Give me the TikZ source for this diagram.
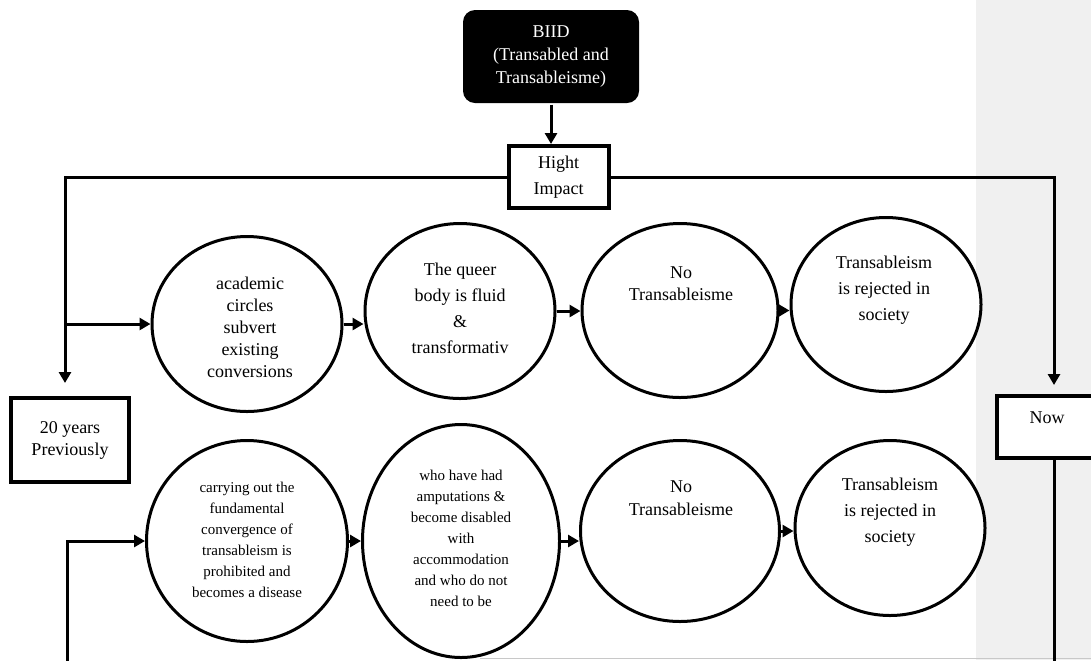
\documentclass[tikz,border=0pt]{standalone}
\usepackage{fontspec}
\setmainfont{Liberation Serif}
\usetikzlibrary{arrows.meta}
\usetikzlibrary{shapes.geometric}
\definecolor{panelgray}{RGB}{240,240,240}
\definecolor{edgegray}{RGB}{200,200,200}

\begin{document}
\begin{tikzpicture}[x=0.5pt,y=-0.5pt,>={Triangle[length=5.5pt,width=6pt]},line width=1.5pt,
    ring/.style={ellipse,draw,fill=white,inner sep=0pt,line width=1.5pt},
    box node/.style={rectangle,draw,fill=white,line width=2pt,align=center,inner sep=0pt,font=\fontsize{9}{11}\selectfont},
    ring text/.style={align=center,font=\fontsize{9}{13}\selectfont},
    small text/.style={align=center,font=\fontsize{7.5}{10.5}\selectfont}]
   \useasboundingbox (0,0) rectangle (1091,660);
   \fill[panelgray] (976,0) rectangle (1091,660);
   \draw[line width=0.75pt,color=edgegray] (480,658.5) -- (1091,658.5);

   % top of the chart
   \node[rectangle,rounded corners=6pt,fill=black,text=white,minimum width=88pt,minimum height=46.5pt,
      align=center,font=\fontsize{9}{11.5}\selectfont] (biid) at (551,56.5) {BIID\\(Transabled and\\Transableisme)};
   \node[box node,minimum width=50pt,minimum height=31pt,font=\fontsize{9}{13}\selectfont] (hi) at (558.5,177) {Hight\\Impact};
   \node[box node,minimum width=59pt,minimum height=42pt] (prev) at (70,440) {20 years\\Previously};
   \node[box node,minimum width=57pt,minimum height=31pt] (now) at (1054,427) {};
   \node[font=\fontsize{9}{11}\selectfont] (nowtext) at (1047,418) {Now};

   \coordinate (lt) at (65,177);
   \coordinate (lb) at (65,383);
   \coordinate (rt) at (1054,177);
   \coordinate (rb) at (1054,385);
   \coordinate (lbot) at (67,664);
   \coordinate (rbot) at (1054,664);

   % upper row
   \node[ring,minimum width=95pt,minimum height=87.5pt] (c1) at (247,324) {};
   \node[ring,minimum width=95pt,minimum height=87.5pt] (c2) at (460,311) {};
   \node[ring,minimum width=98pt,minimum height=87pt] (c3) at (680,310.5) {};
   \node[ring,minimum width=95pt,minimum height=87pt] (c4) at (886,304.5) {};
   \node[ring text,font=\fontsize{9}{11}\selectfont] (t1) at (250,327.5) {academic\\circles\\subvert\\existing\\conversions};
   \node[ring text] (t2) at (460,308.5) {The queer\\body is fluid\\\&\\transformativ};
   \node[ring text,font=\fontsize{9}{11}\selectfont] (t3) at (681,284) {No\\Transableisme};
   \node[ring text] (t4) at (884,290) {Transableism\\is rejected in\\society};

   % lower row
   \node[ring,minimum width=100.5pt,minimum height=100.5pt] (b1) at (247,541) {};
   \node[ring,minimum width=98.5pt,minimum height=116.5pt] (b2) at (461,541) {};
   \node[ring,minimum width=99.5pt,minimum height=90.5pt] (b3) at (680,531) {};
   \node[ring,minimum width=95pt,minimum height=87.5pt] (b4) at (890,528) {};
   \node[small text] (s1) at (247,540) {carrying out the\\fundamental\\convergence of\\transableism is\\prohibited and\\becomes a disease};
   \node[small text] (s2) at (461,538.5) {who have had\\amputations \&\\become disabled\\with\\accommodation\\and who do not\\need to be};
   \node[ring text,font=\fontsize{9}{11.5}\selectfont] (s3) at (681,498.5) {No\\Transableisme};
   \node[ring text] (s4) at (890,512) {Transableism\\is rejected in\\society};

   % connectors
   \draw[->] (biid.south) -- (biid.south |- hi.north);
   \draw[->] (hi.west) -- (lt) -- (lb);
   \draw[->] (hi.east) -- (rt) -- (rb);
   \draw[->] (lt |- c1.west) -- (c1.west);
   \draw (now.south) -- (rbot);
   \draw[->] (lbot) |- (b1.west);
   \path[->] (c1.east) edge (c1.east -| c2.west);
   \path[->] (c2.east) edge (c2.east -| c3.west);
   \path[->] (c3.east) edge (c3.east -| c4.west);
   \path[->] (b1.east) edge (b1.east -| b2.west);
   \path[->] (b2.east) edge (b2.east -| b3.west);
   \path[->] (b3.east) edge (b3.east -| b4.west);
\end{tikzpicture}
\end{document}
